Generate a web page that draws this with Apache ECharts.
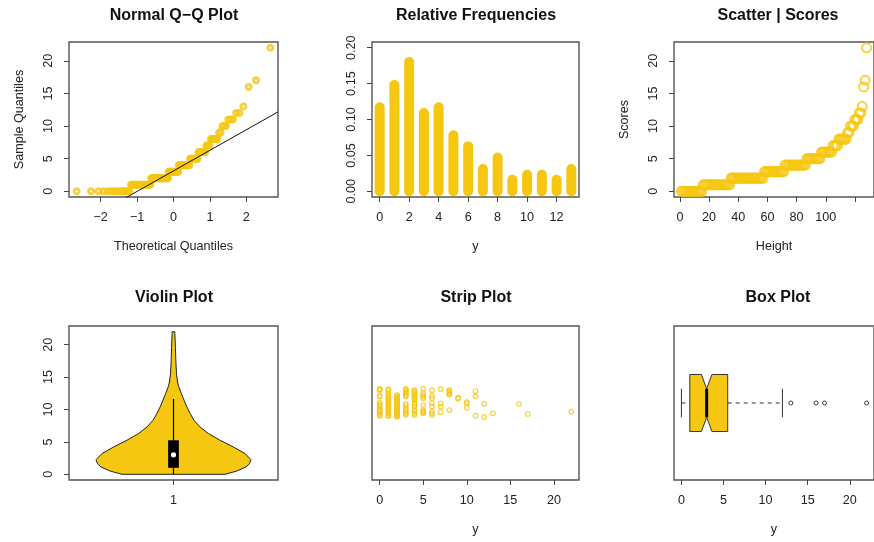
<!DOCTYPE html>
<html>
<head>
<meta charset="utf-8">
<script src="https://cdn.jsdelivr.net/npm/echarts@6/dist/echarts.min.js"></script>
<style>
  html, body { margin: 0; padding: 0; background: #fff; }
  #chart { width: 874px; height: 542px; }
</style>
</head>
<body>
<div id="chart"></div>
<script>
const GOLD = '#F5C710';
const FONT = '"Liberation Sans", Arial, Helvetica, sans-serif';

// distinct scores and how often each occurs
const scoreValues = [0, 1, 2, 3, 4, 5, 6, 7, 8, 9, 10, 11, 12, 13, 16, 17, 22];
const scoreCounts = [15, 19, 23, 14, 15, 10, 8, 4, 6, 2, 3, 3, 2, 1, 1, 1, 1];

// relative frequency bars (the last one lumps 13 and above)
const freqX = [0, 1, 2, 3, 4, 5, 6, 7, 8, 9, 10, 11, 12, 13];
const freqValues = [0.117, 0.148, 0.180, 0.109, 0.117, 0.078, 0.0625, 0.031, 0.047, 0.016, 0.023, 0.023, 0.016, 0.031];

// vertical jitter of the strip chart, one per sorted score
const stripJitter = [
  0.098, 0.095, 0.09, 0.05, 0.045, 0.003, -0.01, -0.02, -0.028, -0.045, -0.055, -0.065, -0.075, -0.085, -0.09,
  0.098, 0.09, 0.07, 0.055, 0.045, 0.035, 0.025, 0.015, 0.005, -0.005, -0.015, -0.025, -0.035, -0.045, -0.055, -0.065, -0.075, -0.085, -0.092,
  0.056, 0.05, 0.043, 0.036, 0.03, 0.022, 0.015, 0.008, 0.0, -0.006, -0.013, -0.02, -0.028, -0.035, -0.042, -0.05, -0.057, -0.064, -0.072, -0.079, -0.086, -0.092, -0.096,
  0.1, 0.092, 0.085, 0.075, 0.065, 0.055, 0.045, -0.007, -0.02, -0.035, -0.05, -0.065, -0.075, -0.084,
  0.09, 0.08, 0.07, 0.06, 0.05, 0.04, 0.03, 0.02, 0.0, -0.012, -0.025, -0.05, -0.062, -0.074, -0.084,
  0.1, 0.07, 0.056, 0.045, 0.033, -0.014, -0.05, -0.06, -0.066, -0.072,
  0.09, 0.05, 0.035, 0.0, -0.025, -0.06, -0.072, -0.084,
  0.098, -0.005, -0.026, -0.065,
  0.091, 0.085, 0.075, 0.065, 0.058, -0.049,
  0.037, 0.03,
  0.007, -0.002, -0.033,
  0.084, 0.047, -0.089,
  -0.005, -0.098,
  -0.072, -0.007, -0.077, -0.061
];

// violin outline: half width at score levels
const violinY = [0, 0.5, 1.13, 1.65, 2.26, 3.19, 4.2, 5.25, 6.28, 7.3, 8.33, 9.37, 10.4, 11.4, 12.45, 13.5, 14.24, 15.5, 17.6, 19.6, 21.7, 22];
const violinHalf = [0.267, 0.327, 0.375, 0.393, 0.4, 0.37, 0.31, 0.241, 0.181, 0.137, 0.106, 0.086, 0.069, 0.055, 0.041, 0.027, 0.021, 0.0155, 0.012, 0.010, 0.007, 0.007];

const scoreTicks = [0, 5, 10, 15, 20];

// expand into the sorted sample
const scores = [];
scoreValues.forEach((v, i) => { for (let k = 0; k < scoreCounts[i]; k++) scores.push(v); });
const n = scores.length;

// inverse normal cdf (Acklam)
function qnorm(p) {
  const a = [-3.969683028665376e+01, 2.209460984245205e+02, -2.759285104469687e+02, 1.383577518672690e+02, -3.066479806614716e+01, 2.506628277459239e+00];
  const b = [-5.447609879822406e+01, 1.615858368580409e+02, -1.556989798598866e+02, 6.680131188771972e+01, -1.328068155288572e+01];
  const c = [-7.784894002430293e-03, -3.223964580411365e-01, -2.400758277161838e+00, -2.549732539343734e+00, 4.374664141464968e+00, 2.938163982698783e+00];
  const d = [7.784695709041462e-03, 3.224671290700398e-01, 2.445134137142996e+00, 3.754408661907416e+00];
  const pl = 0.02425;
  let q, r;
  if (p < pl) {
    q = Math.sqrt(-2 * Math.log(p));
    return (((((c[0]*q+c[1])*q+c[2])*q+c[3])*q+c[4])*q+c[5]) / ((((d[0]*q+d[1])*q+d[2])*q+d[3])*q+1);
  }
  if (p > 1 - pl) {
    q = Math.sqrt(-2 * Math.log(1 - p));
    return -(((((c[0]*q+c[1])*q+c[2])*q+c[3])*q+c[4])*q+c[5]) / ((((d[0]*q+d[1])*q+d[2])*q+d[3])*q+1);
  }
  q = p - 0.5; r = q * q;
  return (((((a[0]*r+a[1])*r+a[2])*r+a[3])*r+a[4])*r+a[5])*q / (((((b[0]*r+b[1])*r+b[2])*r+b[3])*r+b[4])*r+1);
}

function quantile7(s, p) {
  const h = (s.length - 1) * p, lo = Math.floor(h);
  const hi = Math.min(lo + 1, s.length - 1);
  return s[lo] + (h - lo) * (s[hi] - s[lo]);
}

function fivenum(s) {
  const m = s.length, n4 = Math.floor((m + 3) / 2) / 2;
  return [1, n4, (m + 1) / 2, m + 1 - n4, m].map(p => 0.5 * (s[Math.floor(p) - 1] + s[Math.ceil(p) - 1]));
}

// qq line through the quartiles
const q1 = quantile7(scores, 0.25), q3 = quantile7(scores, 0.75);
const zq = qnorm(0.75);
const qqSlope = (q3 - q1) / (2 * zq);
const qqIntercept = q1 + zq * qqSlope;

// boxplot stats
const fn = fivenum(scores);
const iqr = fn[3] - fn[1];
const loFence = fn[1] - 1.5 * iqr, hiFence = fn[3] + 1.5 * iqr;
const inside = scores.filter(v => v >= loFence && v <= hiFence);
const whiskLo = Math.min(...inside), whiskHi = Math.max(...inside);
const outliers = scores.filter(v => v < loFence || v > hiFence);
const notchLo = fn[2] - 1.58 * iqr / Math.sqrt(n), notchHi = fn[2] + 1.58 * iqr / Math.sqrt(n);

// violin inner box
const vMed = quantile7(scores, 0.5);
const vWhiskHi = Math.min(Math.max(...scores), q3 + 1.5 * (q3 - q1));
const vWhiskLo = Math.max(Math.min(...scores), q1 - 1.5 * (q3 - q1));

const minus = v => String(v).replace('-', '\u2212');

const textStyle = { fontFamily: FONT, fontSize: 12.6, color: '#222' };

function axis(grid, min, max, ticks, opts) {
  opts = opts || {};
  return {
    gridIndex: grid,
    type: 'value',
    min: min,
    max: max,
    show: opts.show !== false,
    name: opts.name || '',
    nameLocation: 'middle',
    nameGap: opts.nameGap || 43,
    nameTextStyle: textStyle,
    axisLine: { show: false, onZero: false },
    splitLine: { show: false },
    axisTick: { show: true, length: 5, customValues: ticks, lineStyle: { color: '#444', width: 1 } },
    axisLabel: Object.assign({
      show: true,
      customValues: opts.labels || ticks,
      margin: 14,
      rotate: opts.rotate || 0,
      formatter: opts.formatter || minus
    }, textStyle)
  };
}

const gridBox = { show: true, borderColor: '#555', borderWidth: 1.4, backgroundColor: 'transparent', containLabel: false };
const grids = [
  { left: 69, top: 42, width: 209, height: 155 },
  { left: 372, top: 42, width: 207, height: 155 },
  { left: 674, top: 42, width: 208, height: 155 },
  { left: 69, top: 326, width: 209, height: 154 },
  { left: 372, top: 326, width: 207, height: 154 },
  { left: 674, top: 326, width: 208, height: 154 }
].map(g => Object.assign({}, gridBox, g));

// title centres; the title box adds 5px padding on each side
const titleStyle = { fontFamily: FONT, fontSize: 16, fontWeight: 'bold', color: '#111' };
const titles = [
  ['Normal Q\u2212Q Plot', 169, 3],
  ['Relative Frequencies', 471, 3],
  ['Scatter | Scores', 773, 3],
  ['Violin Plot', 169, 285],
  ['Strip Plot', 471, 285],
  ['Box Plot', 773, 285]
].map(t => ({ text: t[0], left: t[1], top: t[2], textAlign: 'center', textStyle: titleStyle }));

const xAxes = [
  axis(0, -2.87, 2.87, [-2, -1, 0, 1, 2], { name: 'Theoretical Quantiles' }),
  axis(1, -0.52, 13.52, [0, 2, 4, 6, 8, 10, 12], { name: 'y' }),
  axis(2, -4.08, 133.08, [0, 20, 40, 60, 80, 100, 120], { name: 'Height', labels: [0, 20, 40, 60, 80, 100] }),
  axis(3, 0.46, 1.54, [1], {}),
  axis(4, -0.88, 22.88, scoreTicks, { name: 'y' }),
  axis(5, -0.88, 22.88, scoreTicks, { name: 'y' })
];
const yAxes = [
  axis(0, -0.88, 22.88, scoreTicks, { name: 'Sample Quantiles', rotate: 90 }),
  axis(1, -0.008, 0.208, [0, 0.05, 0.1, 0.15, 0.2], { rotate: 90, formatter: v => v.toFixed(2) }),
  axis(2, -0.88, 22.88, scoreTicks, { name: 'Scores', rotate: 90 }),
  axis(3, -0.88, 22.88, scoreTicks, { rotate: 90 }),
  axis(4, 0.46, 1.54, [], { show: false }),
  axis(5, 0.46, 1.54, [], { show: false })
];

const series = [
  {
    type: 'scatter', xAxisIndex: 0, yAxisIndex: 0, silent: true,
    symbol: 'circle', symbolSize: 5,
    itemStyle: { color: 'transparent', borderColor: GOLD, borderWidth: 3 },
    data: scores.map((v, i) => [qnorm((i + 0.5) / n), v])
  },
  {
    type: 'line', xAxisIndex: 0, yAxisIndex: 0, silent: true, showSymbol: false, clip: true,
    lineStyle: { color: '#111', width: 1 },
    data: [-2.87, 2.87].map(x => [x, qqIntercept + qqSlope * x])
  },
  {
    type: 'custom', xAxisIndex: 1, yAxisIndex: 1, silent: true,
    data: freqX.map((x, i) => [x, freqValues[i]]),
    renderItem: (params, api) => {
      const a = api.coord([api.value(0), 0]);
      const b = api.coord([api.value(0), api.value(1)]);
      return {
        type: 'line',
        shape: { x1: a[0], y1: a[1], x2: b[0], y2: b[1] },
        style: { stroke: GOLD, lineWidth: 10, lineCap: 'round' }
      };
    }
  },
  {
    type: 'scatter', xAxisIndex: 2, yAxisIndex: 2, silent: true,
    symbol: 'circle', symbolSize: 9,
    itemStyle: { color: 'transparent', borderColor: GOLD, borderWidth: 2.2, opacity: 0.75 },
    data: scores.map((v, i) => [i + 1, v])
  },
  {
    type: 'custom', xAxisIndex: 3, yAxisIndex: 3, silent: true,
    data: [[1, vMed]],
    renderItem: (params, api) => {
      const left = violinY.map((y, i) => api.coord([1 - violinHalf[i], y]));
      const right = violinY.map((y, i) => api.coord([1 + violinHalf[i], y])).reverse();
      const w0 = api.coord([1, vWhiskLo]), w1 = api.coord([1, vWhiskHi]);
      const b0 = api.coord([1 - 0.0277, q3]), b1 = api.coord([1 + 0.0277, q1]);
      const m = api.coord([1, vMed]);
      return {
        type: 'group',
        children: [
          { type: 'polygon', shape: { points: left.concat(right) }, style: { fill: GOLD, stroke: '#222', lineWidth: 1 } },
          { type: 'line', shape: { x1: w0[0], y1: w0[1], x2: w1[0], y2: w1[1] }, style: { stroke: '#000', lineWidth: 1.2 } },
          { type: 'rect', shape: { x: b0[0], y: b0[1], width: b1[0] - b0[0], height: b1[1] - b0[1] }, style: { fill: '#000' } },
          { type: 'circle', shape: { cx: m[0], cy: m[1], r: 2.6 }, style: { fill: '#fff' } }
        ]
      };
    }
  },
  {
    type: 'scatter', xAxisIndex: 4, yAxisIndex: 4, silent: true,
    symbol: 'circle', symbolSize: 4.5,
    itemStyle: { color: 'transparent', borderColor: GOLD, borderWidth: 1.2 },
    data: scores.map((v, i) => [v, 1 + stripJitter[i]])
  },
  {
    type: 'custom', xAxisIndex: 5, yAxisIndex: 5, silent: true,
    data: [[fn[2], 1]],
    renderItem: (params, api) => {
      const c = (x, y) => api.coord([x, y]);
      const hw = 0.2, nw = 0.1, sw = 0.1;
      const pts = [
        c(fn[1], 1 - hw), c(notchLo, 1 - hw), c(fn[2], 1 - nw), c(notchHi, 1 - hw), c(fn[3], 1 - hw),
        c(fn[3], 1 + hw), c(notchHi, 1 + hw), c(fn[2], 1 + nw), c(notchLo, 1 + hw), c(fn[1], 1 + hw)
      ];
      const seg = (p, q, style) => ({ type: 'line', shape: { x1: p[0], y1: p[1], x2: q[0], y2: q[1] }, style: style });
      const thin = { stroke: '#333', lineWidth: 1 };
      const dashed = { stroke: '#333', lineWidth: 1, lineDash: [4, 4] };
      return {
        type: 'group',
        children: [
          seg(c(whiskLo, 1), c(fn[1], 1), dashed),
          seg(c(fn[3], 1), c(whiskHi, 1), dashed),
          seg(c(whiskLo, 1 - sw), c(whiskLo, 1 + sw), thin),
          seg(c(whiskHi, 1 - sw), c(whiskHi, 1 + sw), thin),
          { type: 'polygon', shape: { points: pts }, style: { fill: GOLD, stroke: '#333', lineWidth: 1 } },
          seg(c(fn[2], 1 - nw), c(fn[2], 1 + nw), { stroke: '#000', lineWidth: 3 })
        ]
      };
    }
  },
  {
    type: 'scatter', xAxisIndex: 5, yAxisIndex: 5, silent: true,
    symbol: 'circle', symbolSize: 4,
    itemStyle: { color: 'transparent', borderColor: '#111', borderWidth: 1 },
    data: outliers.map(v => [v, 1])
  }
];

const chart = echarts.init(document.getElementById('chart'), null, { renderer: 'canvas' });
chart.setOption({
  animation: false,
  backgroundColor: '#fff',
  title: titles,
  grid: grids,
  xAxis: xAxes,
  yAxis: yAxes,
  series: series
});
</script>
</body>
</html>
